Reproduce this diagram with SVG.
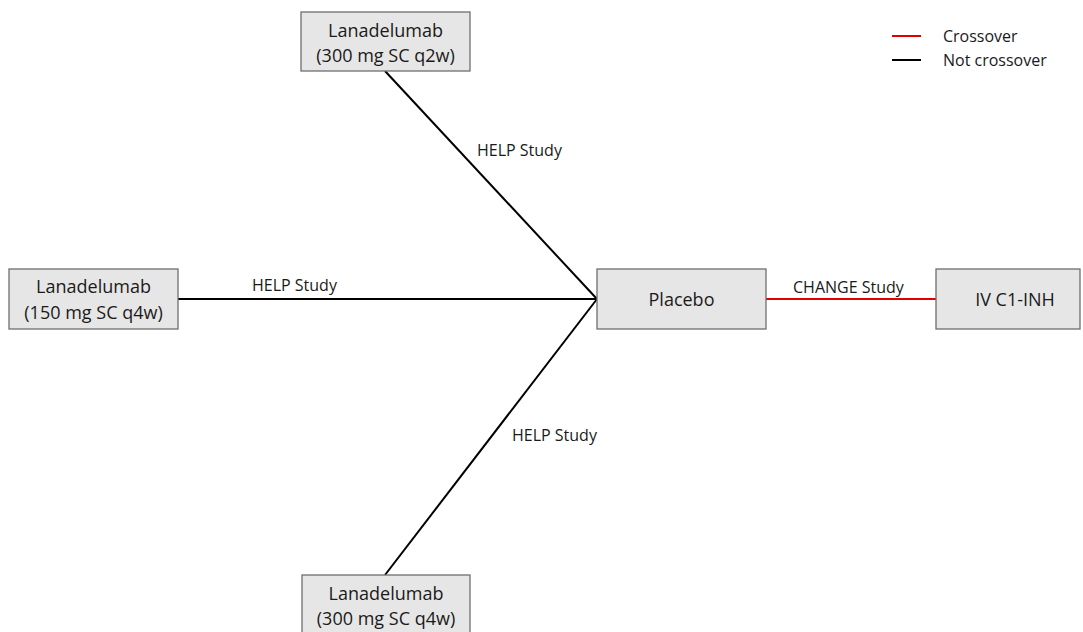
<svg xmlns="http://www.w3.org/2000/svg" width="1083" height="632" viewBox="0 0 1083 632">
<style>
.box{fill:#e7e6e6;stroke:#6f6f6f;stroke-width:1.3}
.t{font-family:"Open Sans","Liberation Sans",sans-serif;font-size:18px;fill:#1a1a1a;text-anchor:middle}
.l{font-family:"Open Sans","Liberation Sans",sans-serif;font-size:16px;fill:#1a1a1a}
.blk{stroke:#000;stroke-width:2;fill:none}
.red{stroke:#e00000;stroke-width:2;fill:none}
</style>
<rect width="1083" height="632" fill="#fff"/>
<g id="connectors">
<line class="blk" x1="385" y1="71" x2="597" y2="299"/>
<line class="blk" x1="178" y1="299" x2="597" y2="299"/>
<line class="blk" x1="385" y1="575" x2="597" y2="299"/>
<line class="red" x1="766" y1="299" x2="936" y2="299"/>
<text class="l" x="477" y="156">HELP Study</text>
<text class="l" x="252" y="291">HELP Study</text>
<text class="l" x="512" y="441">HELP Study</text>
<text class="l" x="793" y="293">CHANGE Study</text>
</g>
<g id="node-top">
<rect class="box" x="301" y="12" width="169" height="59"/>
<text class="t" x="385.5" y="37">Lanadelumab</text>
<text class="t" x="385.5" y="62">(300 mg SC q2w)</text>
</g>
<g id="node-left">
<rect class="box" x="9" y="269" width="169" height="60"/>
<text class="t" x="93.5" y="293">Lanadelumab</text>
<text class="t" x="93.5" y="319">(150 mg SC q4w)</text>
</g>
<g id="node-placebo">
<rect class="box" x="597" y="269" width="169" height="60"/>
<text class="t" x="681.5" y="306">Placebo</text>
</g>
<g id="node-ivc1inh">
<rect class="box" x="936" y="269" width="144" height="60"/>
<text class="t" x="1015" y="306">IV C1-INH</text>
</g>
<g id="node-bottom">
<rect class="box" x="302" y="575" width="168" height="60"/>
<text class="t" x="386" y="600">Lanadelumab</text>
<text class="t" x="386" y="625">(300 mg SC q4w)</text>
</g>
<g id="legend">
<line class="red" x1="892" y1="36" x2="921" y2="36"/>
<line class="blk" x1="892" y1="60" x2="921" y2="60"/>
<text class="l" x="943" y="42">Crossover</text>
<text class="l" x="943" y="66">Not crossover</text>
</g>
</svg>
